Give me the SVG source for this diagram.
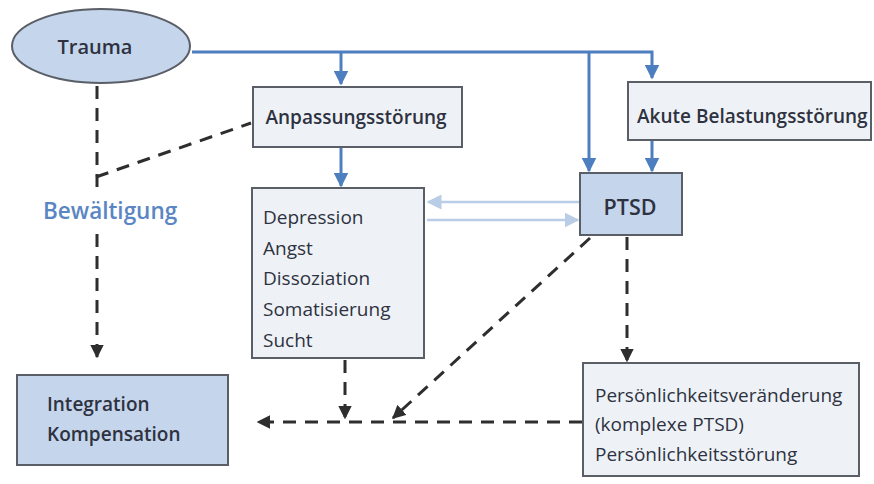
<svg xmlns="http://www.w3.org/2000/svg" width="874" height="484" viewBox="0 0 874 484">
<style>
.box{fill:#eef2f7;stroke:#5a5e66;stroke-width:2}
.hl{fill:#c4d5ec;stroke:#5a5e66;stroke-width:2}
.t{font-family:"Open Sans","Liberation Sans",sans-serif;fill:#2e3240}
.r{font-size:19px}
.b{font-weight:600;font-size:19px}
.blue{stroke:#4d7fc0;stroke-width:3;fill:none}
.lb{stroke:#b9cde6;stroke-width:2.5;fill:none}
.dash{stroke:#2e2e2e;stroke-width:3;fill:none;stroke-dasharray:13 9}
</style>
<defs>
<marker id="ab" viewBox="0 0 10 10" refX="9" refY="5" markerWidth="5" markerHeight="5" orient="auto" markerUnits="strokeWidth"><path d="M0,0 L10,5 L0,10 z" fill="#4d7fc0"/></marker>
<marker id="alb" viewBox="0 0 10 10" refX="9" refY="5" markerWidth="6" markerHeight="6" orient="auto" markerUnits="strokeWidth"><path d="M0,0 L10,5 L0,10 z" fill="#b9cde6"/></marker>
<marker id="ak" viewBox="0 0 10 10" refX="9" refY="5" markerWidth="4.5" markerHeight="4.5" orient="auto" markerUnits="strokeWidth"><path d="M0,0 L10,5 L0,10 z" fill="#2e2e2e"/></marker>
</defs>
<g id="connectors">
<path class="blue" d="M192,52 H652 V78" marker-end="url(#ab)"/>
<path class="blue" d="M341,52 V84" marker-end="url(#ab)"/>
<path class="blue" d="M589,52 V171" marker-end="url(#ab)"/>
<path class="blue" d="M652,141 V171" marker-end="url(#ab)"/>
<path class="blue" d="M341,148 V186" marker-end="url(#ab)"/>
<path class="lb" d="M579,202 H428" marker-end="url(#alb)"/>
<path class="lb" d="M427,220 H578" marker-end="url(#alb)"/>
<path class="dash" d="M97,86 V192"/>
<path class="dash" d="M97,234 V357" marker-end="url(#ak)"/>
<path class="dash" d="M96,177 L251,123"/>
<path class="dash" d="M345,360 V418" marker-end="url(#ak)"/>
<path class="dash" d="M590,238 L393,418" marker-end="url(#ak)"/>
<path class="dash" d="M627,237 V361" marker-end="url(#ak)"/>
<path class="dash" d="M582,422 H258" marker-end="url(#ak)"/>
</g>
<g id="trauma">
<ellipse class="hl" cx="101" cy="46" rx="89" ry="37"/>
<text class="t b" x="95" y="54" style="font-size:20px" text-anchor="middle">Trauma</text>
</g>
<g id="anpassung">
<rect class="box" x="253" y="87" width="209" height="60"/>
<text class="t b" x="356" y="124" text-anchor="middle">Anpassungsstörung</text>
</g>
<g id="akute">
<rect class="box" x="628" y="82" width="243" height="58"/>
<text class="t b" x="637" y="123">Akute Belastungsstörung</text>
</g>
<g id="ptsd">
<rect class="hl" x="580" y="173" width="102" height="62"/>
<text class="t b" x="630" y="215" style="font-size:21.5px" text-anchor="middle">PTSD</text>
</g>
<g id="symptome">
<rect class="box" x="252" y="188" width="172" height="170"/>
<text class="t r" x="263" y="224">Depression</text>
<text class="t r" x="263" y="255">Angst</text>
<text class="t r" x="263" y="285">Dissoziation</text>
<text class="t r" x="263" y="316">Somatisierung</text>
<text class="t r" x="263" y="347">Sucht</text>
</g>
<g id="bewaeltigung">
<text class="t" x="43" y="219" style="fill:#5a86c4;font-size:22.5px;font-weight:600">Bewältigung</text>
</g>
<g id="integration">
<rect class="hl" x="17" y="375" width="211" height="90"/>
<text class="t b" x="47" y="411">Integration</text>
<text class="t b" x="47" y="441">Kompensation</text>
</g>
<g id="persoenlichkeit">
<rect class="box" x="583" y="363" width="276" height="113"/>
<text class="t r" x="595" y="402">Persönlichkeitsveränderung</text>
<text class="t r" x="595" y="431">(komplexe PTSD)</text>
<text class="t r" x="595" y="461">Persönlichkeitsstörung</text>
</g>
</svg>
